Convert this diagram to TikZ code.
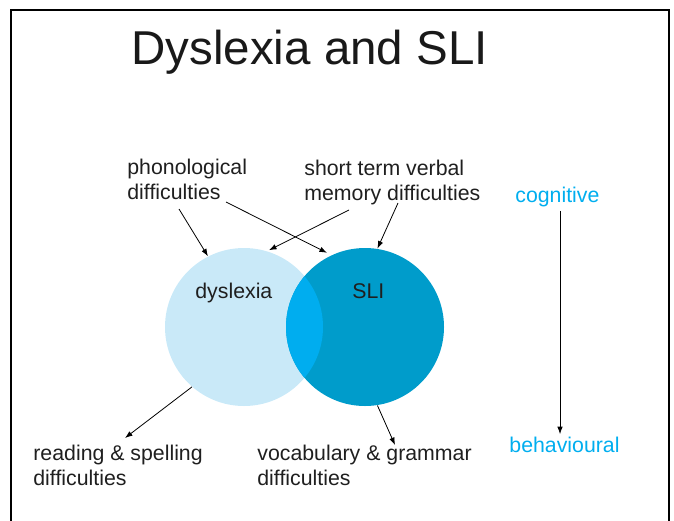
\documentclass[tikz,border=0pt]{standalone}
\usepackage{fontspec}
\setmainfont{Liberation Sans}
\usetikzlibrary{arrows.meta,calc}

\definecolor{dysblue}{HTML}{C9E9F8}
\definecolor{sliblue}{HTML}{009CCB}
\definecolor{bothblue}{HTML}{00ADEF}
\definecolor{levelcyan}{HTML}{00AEEF}

\begin{document}
\begin{tikzpicture}[x=1pt, y=-1pt, line width=0.8pt,
    >={Latex[length=7.5pt,width=5.5pt]},
    lbl/.style={font=\fontsize{21.3}{24.5}\selectfont, align=left, anchor=base west, inner sep=0pt, text=black!88},
    level/.style={lbl, text=levelcyan}]
    \useasboundingbox (0,0) rectangle (674,520);
    \draw[line width=2.2pt] (11,521) -- (11,10) -- (669,10) -- (669,521);
    \node[anchor=base west, inner sep=0pt, font=\fontsize{47.5}{50}\selectfont, text=black!90] (title) at (131,64) {Dyslexia and SLI};
    % the two circles and their overlap
    \node[circle, fill=dysblue, minimum size=158pt, inner sep=0pt] (dys) at (244,327) {};
    \node[circle, fill=sliblue, minimum size=158pt, inner sep=0pt] (sli) at (365,327) {};
    \begin{scope}
        \clip (dys.center) circle (79);
        \fill[bothblue] (sli.center) circle (79);
    \end{scope}
    \node[lbl] (dyslbl) at (195,298) {dyslexia};
    \node[lbl] (slilbl) at (352,298) {SLI};
    % labels (base = last line)
    \node[lbl] (phon) at (127,199) {phonological\\difficulties};
    \node[lbl] (stm) at (304,200) {short term verbal\\memory difficulties};
    \node[lbl] (read) at (33,485) {reading \& spelling\\difficulties};
    \node[lbl] (voc) at (257,485) {vocabulary \& grammar\\difficulties};
    \node[level] (cog) at (515,202) {cognitive};
    \node[level] (beh) at (509,452) {behavioural};
    % arrow ends near the labels
    \coordinate (phonA) at (179,209);
    \coordinate (phonB) at (226,202);
    \coordinate (stmA) at (349,210);
    \coordinate (stmB) at (398,203);
    \coordinate (readT) at (125,438);
    \coordinate (vocT) at (395,445);
    \draw[->] (phonA) -- (dys.117);
    \draw[->, shorten >=5pt] (phonB) -- (sli.115);
    \draw[->, shorten >=2pt] (stmA) -- (dys.73);
    \draw[->] (stmB) -- (sli.81);
    \draw[->] (dys.229) -- (readT);
    \draw[->] (sli.279) -- (vocT);
    \draw[->, shorten <=4pt, shorten >=2pt] (cog.south -| 560,0) -- (beh.north -| 560,0);
\end{tikzpicture}
\end{document}
